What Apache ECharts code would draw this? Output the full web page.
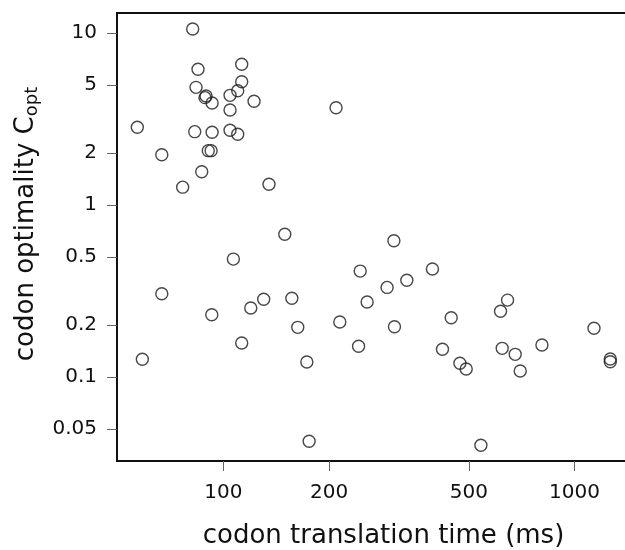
<!DOCTYPE html>
<html>
<head>
<meta charset="utf-8">
<script src="https://cdn.jsdelivr.net/npm/echarts@6/dist/echarts.min.js"></script>
<style>
  html, body { margin: 0; padding: 0; background: #fff; }
  #chart { width: 625px; height: 550px; }
</style>
</head>
<body>
<div id="chart"></div>
<script>
// codon translation time (ms)
var timeMs = [
  81.8, 84.7, 112.8, 112.8, 83.6, 109.9, 104.5, 89.3, 88.7, 92.9,
  122.3, 104.5, 209.4, 56.9, 82.9, 92.9, 104.5, 109.9, 90.6, 92.3,
  66.8, 86.8, 76.6, 134.9, 149.6, 106.8, 245.3, 66.8, 130.3, 156.7,
  119.7, 92.7, 256.7, 214.6, 162.9, 112.8, 242.7, 58.8, 172.9, 175.5,
  305.9, 393.9, 333.0, 292.6, 644.6, 615.6, 445.5, 307.1, 1136, 807.5,
  420.7, 622.3, 677.7, 1264, 1264, 471.6, 491.5, 700.3, 541.2
]
// codon optimality C_opt
var optimality = [
  10.55, 6.15, 6.58, 5.21, 4.83, 4.62, 4.34, 4.30, 4.21, 3.92,
  4.01, 3.57, 3.68, 2.83, 2.67, 2.65, 2.72, 2.58, 2.07, 2.07,
  1.96, 1.56, 1.27, 1.32, 0.676, 0.485, 0.413, 0.305, 0.283, 0.287,
  0.252, 0.230, 0.273, 0.209, 0.1945, 0.1576, 0.151, 0.1268, 0.1223, 0.0423,
  0.620, 0.4245, 0.365, 0.332, 0.280, 0.241, 0.2213, 0.196, 0.192, 0.1535,
  0.145, 0.1468, 0.1355, 0.1273, 0.1227, 0.1202, 0.1113, 0.1084, 0.0401
]
var xTicks = [100, 200, 500, 1000]
var yTicks = [0.05, 0.1, 0.2, 0.5, 1, 2, 5, 10]

var points = timeMs.map(function (t, i) { return [t, optimality[i]] })

function plainNum (v) {
  return String(+Number(v).toPrecision(6))
}

var chart = echarts.init(document.getElementById('chart'))
chart.setOption({
  animation: false,
  textStyle: { fontFamily: 'DejaVu Sans' },
  grid: {
    left: 117,
    top: 13,
    right: -25,
    bottom: 89,
    outerBoundsMode: 'none',
    show: true,
    borderColor: '#111',
    borderWidth: 2,
    backgroundColor: 'transparent'
  },
  xAxis: {
    type: 'log',
    min: 49.8,
    max: 1640,
    name: 'codon translation time (ms)',
    nameLocation: 'middle',
    nameGap: 62,
    nameTextStyle: { fontSize: 26, color: '#111' },
    axisLine: { show: false },
    splitLine: { show: false },
    minorTick: { show: false },
    axisTick: { show: true, length: 10, lineStyle: { color: '#666', width: 1 }, customValues: xTicks },
    axisLabel: { fontSize: 20, color: '#111', margin: 22, customValues: xTicks, formatter: plainNum }
  },
  yAxis: {
    type: 'log',
    min: 0.0325,
    max: 13.07,
    name: '{a|codon optimality C}{s|opt}',
    nameLocation: 'middle',
    nameRotate: 90,
    nameGap: 74,
    nameTextStyle: {
      color: '#111',
      padding: [0, 0, 0, 26],
      rich: {
        a: { fontSize: 26, color: '#111', fontFamily: 'DejaVu Sans' },
        s: { fontSize: 18, color: '#111', fontFamily: 'DejaVu Sans', verticalAlign: 'bottom', padding: [12, 0, 0, 0] }
      }
    },
    axisLine: { show: false },
    splitLine: { show: false },
    minorTick: { show: false },
    axisTick: { show: true, length: 10, lineStyle: { color: '#666', width: 1 }, customValues: yTicks },
    axisLabel: { fontSize: 20, color: '#111', margin: 20, customValues: yTicks, formatter: plainNum }
  },
  series: [{
    type: 'scatter',
    data: points,
    symbol: 'circle',
    symbolSize: 12,
    itemStyle: { color: 'transparent', borderColor: '#1a1a1a', borderWidth: 1.4 }
  }]
})
</script>
</body>
</html>
